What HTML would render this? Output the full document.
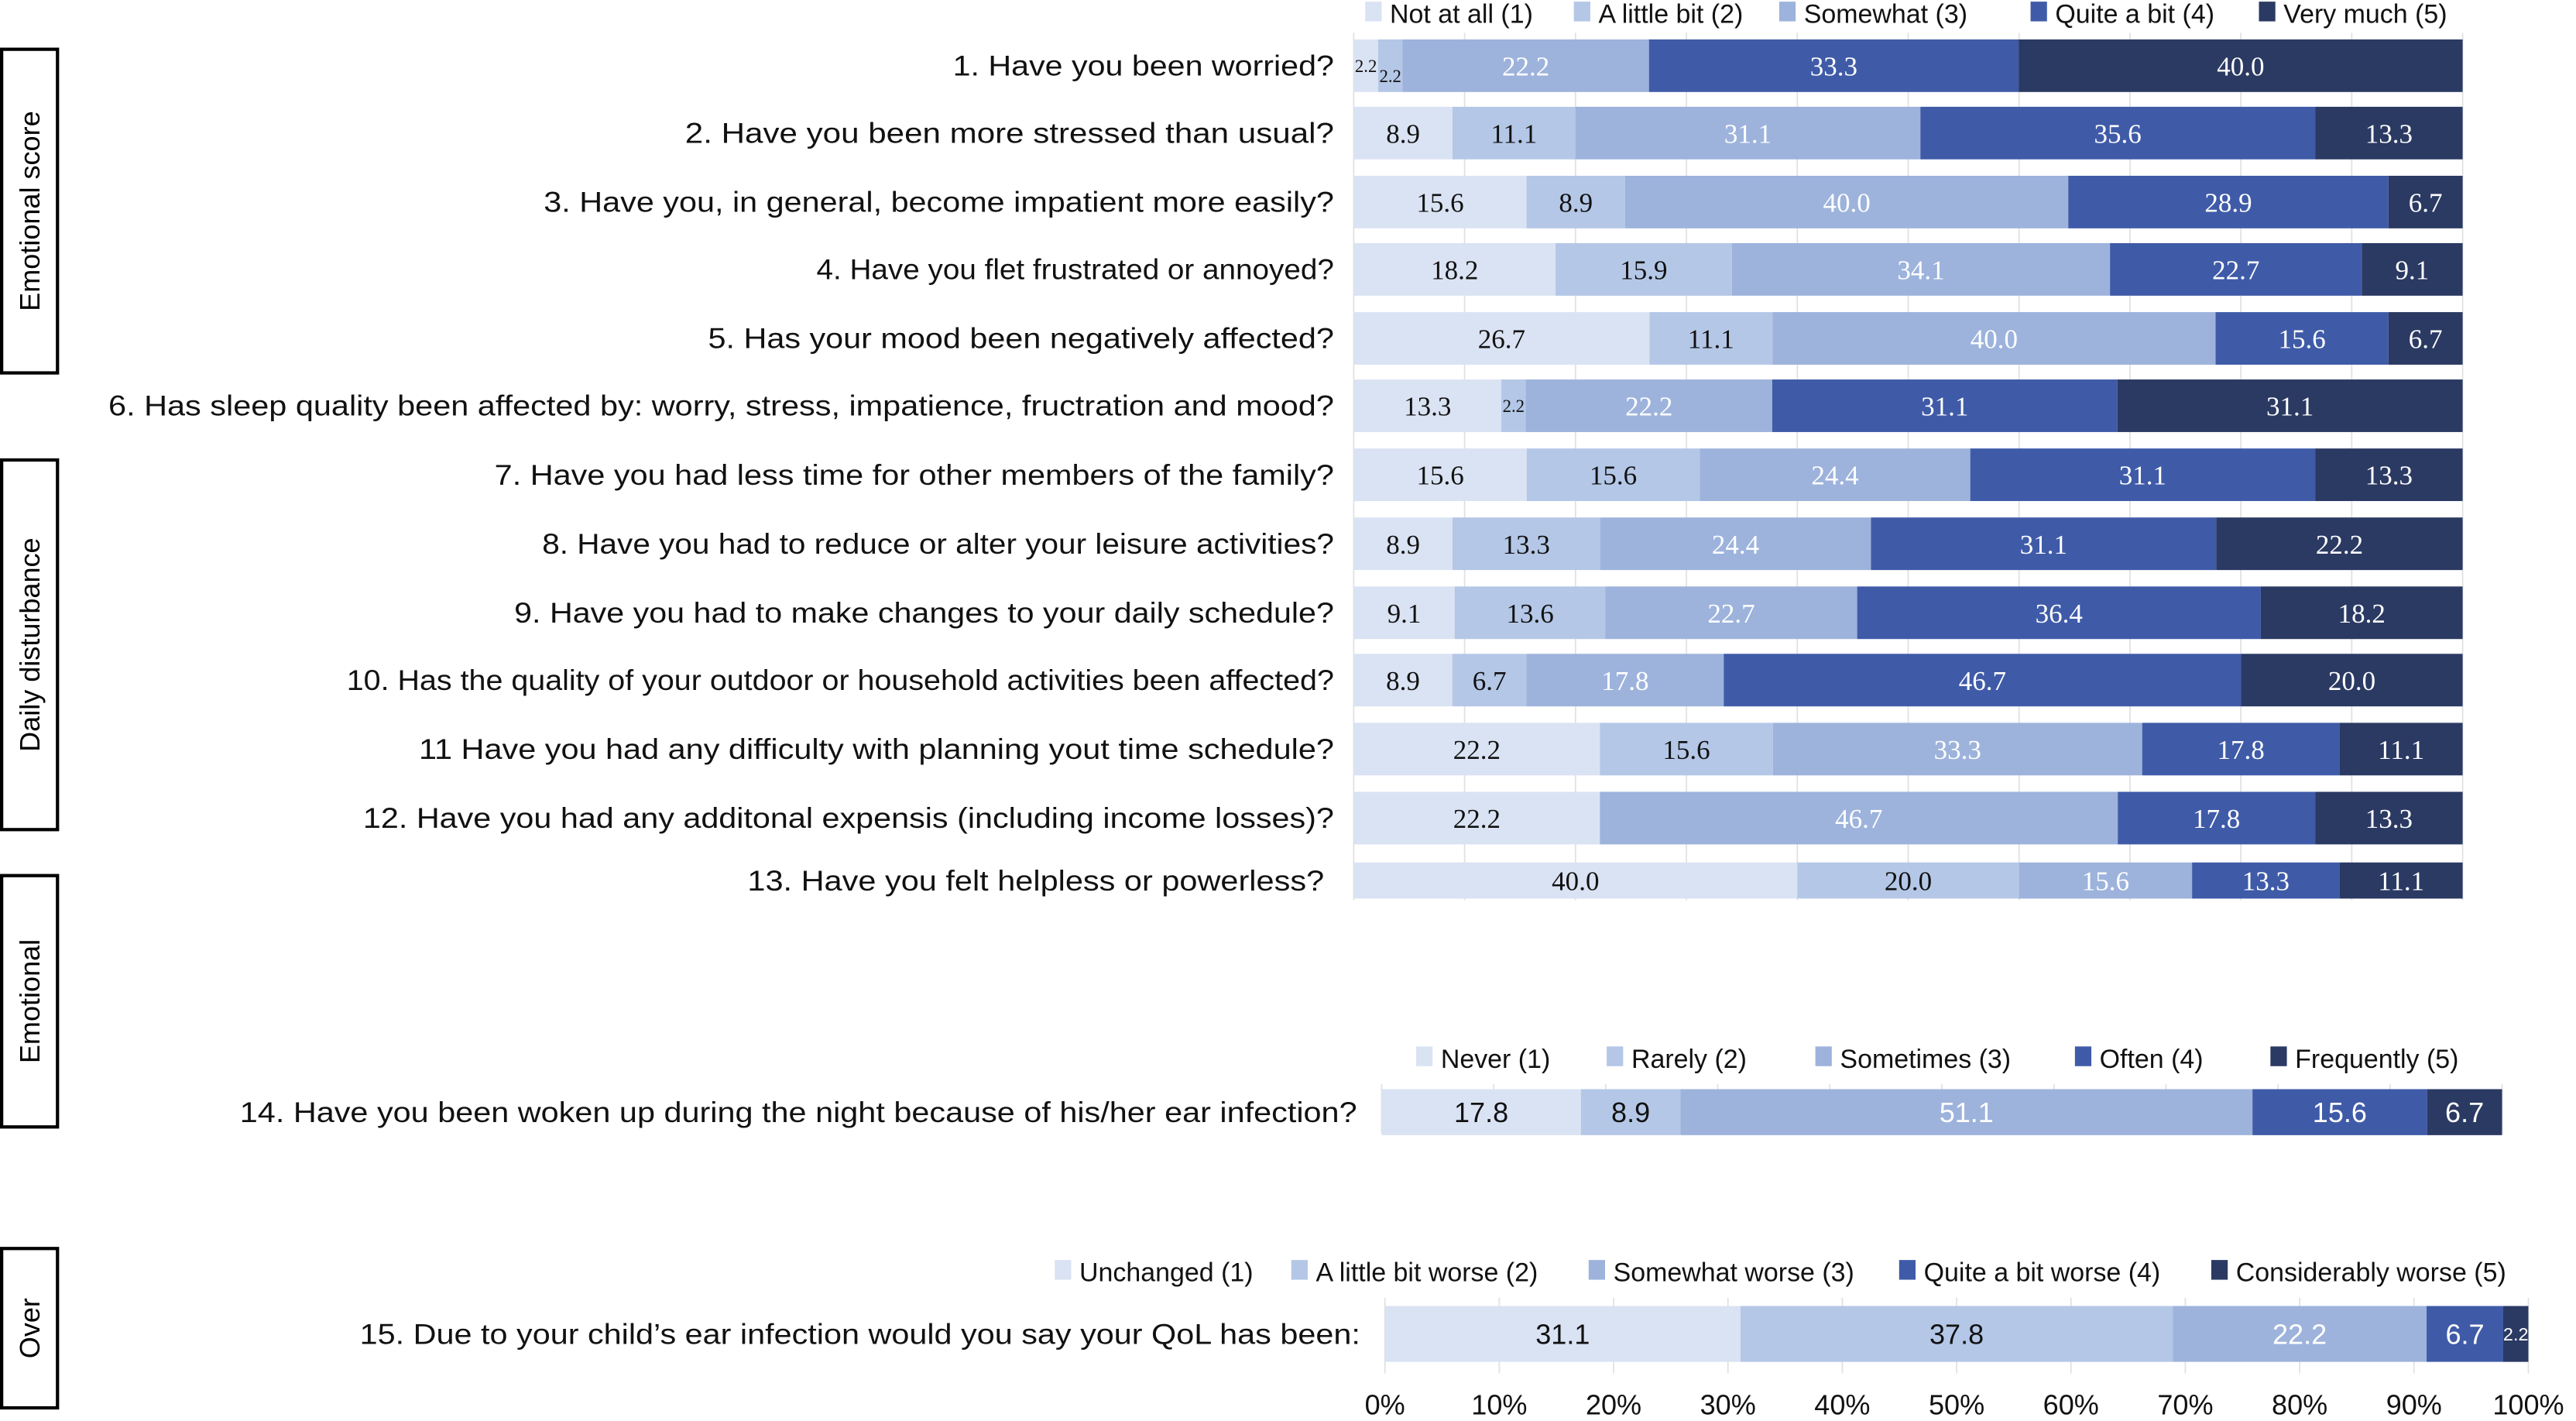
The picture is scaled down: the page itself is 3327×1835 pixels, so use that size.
<!DOCTYPE html>
<html><head><meta charset="utf-8"><style>
html,body{margin:0;padding:0;background:#fff;}
svg{display:block;font-family:"Liberation Sans",sans-serif;}
</style></head><body>
<svg id="chart" width="3327" height="1835" viewBox="0 0 1568 865" preserveAspectRatio="none" xmlns="http://www.w3.org/2000/svg">
<g id="side"></g>
<g id="grid"></g>
<g id="bars"></g>
<g id="labels"></g>
<g id="legends"></g>
</svg>
<script>
const colors = ['#dae3f3','#b4c7e7','#9db3dc','#3f5ba8','#2b3a63'];
const questions = [
 "1. Have you been worried?",
 "2. Have you been more stressed than usual?",
 "3. Have you, in general, become impatient more easily?",
 "4. Have you flet frustrated or annoyed?",
 "5. Has your mood been negatively affected?",
 "6. Has sleep quality been affected by: worry, stress, impatience, fructration and mood?",
 "7. Have you had less time for other members of the family?",
 "8. Have you had to reduce or alter your leisure activities?",
 "9. Have you had to make changes to your daily schedule?",
 "10. Has the quality of your outdoor or household activities been affected?",
 "11 Have you had any difficulty with planning yout time schedule?",
 "12. Have you had any additonal expensis (including income losses)?",
 "13. Have you felt helpless or powerless?"
];
const values = [
 [2.2,2.2,22.2,33.3,40.0],
 [8.9,11.1,31.1,35.6,13.3],
 [15.6,8.9,40.0,28.9,6.7],
 [18.2,15.9,34.1,22.7,9.1],
 [26.7,11.1,40.0,15.6,6.7],
 [13.3,2.2,22.2,31.1,31.1],
 [15.6,15.6,24.4,31.1,13.3],
 [8.9,13.3,24.4,31.1,22.2],
 [9.1,13.6,22.7,36.4,18.2],
 [8.9,6.7,17.8,46.7,20.0],
 [22.2,15.6,33.3,17.8,11.1],
 [22.2,0,46.7,17.8,13.3],
 [40.0,20.0,15.6,13.3,11.1]
];
const q14Label = "14. Have you been woken up during the night because of his/her ear infection?";
const q14Values = [17.8,8.9,51.1,15.6,6.7];
const q15Label = "15. Due to your child\u2019s ear infection would you say your QoL has been:";
const q15Values = [31.1,37.8,22.2,6.7,2.2];
const legend1 = ["Not at all (1)","A little bit (2)","Somewhat (3)","Quite a bit (4)","Very much (5)"];
const legend2 = ["Never (1)","Rarely (2)","Sometimes (3)","Often (4)","Frequently (5)"];
const legend3 = ["Unchanged (1)","A little bit worse (2)","Somewhat worse (3)","Quite a bit worse (4)","Considerably worse (5)"];
const tickLabels = ["0%","10%","20%","30%","40%","50%","60%","70%","80%","90%","100%"];

const NS="http://www.w3.org/2000/svg";
function mk(tag,parent,attrs){const e=document.createElementNS(NS,tag);for(const k in attrs)e.setAttribute(k,attrs[k]);parent.appendChild(e);return e;}
const gSide=document.getElementById('side'),gGrid=document.getElementById('grid'),gBars=document.getElementById('bars'),gLab=document.getElementById('labels'),gLeg=document.getElementById('legends');

const sides=[["Emotional score",1,30,34,197],["Daily disturbance",1,280,34,225],["Emotional",1,533,34,153],["Over",1,760,34,97]];
sides.forEach(s=>{
 const r=mk('rect',gSide,{x:s[1],y:s[2],width:s[3],height:s[4],fill:'none',stroke:'#000','stroke-width':2});
 
 
 const cx=s[1]+s[3]/2+6, cy=s[2]+s[4]/2;
 const t=mk('text',gSide,{x:cx,y:cy,'font-size':17,'text-anchor':'middle',transform:`rotate(-90 ${cx} ${cy})`});
 t.textContent=s[0];
 
 
});

function drawChart(rows,labels,opt){
 const xs=v=>opt.x0+v/100*(opt.x1-opt.x0);
 for(let i=0;i<=10;i++){
  const l=mk('line',gGrid,{x1:xs(i*10),x2:xs(i*10),y1:opt.gy0,y2:opt.gy1,stroke:'#e0e0e0','stroke-width':0.8});
  
  
 }
 rows.forEach((vals,r)=>{
  const cy=opt.cy[r], h=opt.h[r]||opt.h[0];
  const tot=vals.reduce((a,b)=>a+b,0);
  let acc=0;
  vals.forEach((v,k)=>{
   if(v<=0){return;}
   const a=xs(acc/tot*100), b=xs((acc+v)/tot*100);
   const rc=mk('rect',gBars,{x:a,y:cy-h/2,width:b-a,height:h,fill:colors[k]});
   
   
   let fs=opt.fs, ty=cy+fs*0.36, tx=(a+b)/2;
   if(v<3){fs=opt.fs*0.65;ty=cy+fs*0.36;}
   if(opt.smallOffset && v<3 && k===1 && vals[0]<3){ty=cy+10;}
   const t=mk('text',gLab,{x:tx,y:ty,'font-size':fs,'text-anchor':'middle',fill:k>=2?'#fff':'#111',style:'font-family:'+opt.font});
   t.textContent=v.toFixed(1);
   
   
   acc+=v;
  });
  const L=labels[r];
  const q=mk('text',gLab,{x:L[1],y:cy+6,'font-size':17.5,'text-anchor':'end',textLength:L[1]-L[0],lengthAdjust:'spacingAndGlyphs',fill:'#111'});
  q.textContent=L[2];
  
  
 });
}
const starts=[580,417,331,497,431,66,301,330,313,211,255,221,455];
const ends=[812,812,812,812,812,812,812,812,812,812,812,812,806];
const cys=[40,81,123,164,206,247,289,331,373,414,456,498,536];
drawChart(values,questions.map((q,i)=>[starts[i],ends[i],q]),{x0:824,x1:1499,gy0:20,gy1:548,cy:cys,h:[32,32,32,32,32,32,32,32,32,32,32,32,22],fs:16.5,font:'"Liberation Serif",serif',smallOffset:true});
drawChart([q14Values],[[146,826,q14Label]],{x0:841,x1:1523,gy0:660,gy1:690,cy:[677],h:[28],fs:17,font:'"Liberation Sans",sans-serif'});
drawChart([q15Values],[[219,828,q15Label]],{x0:843,x1:1539,gy0:790,gy1:836,cy:[812],h:[34],fs:17,font:'"Liberation Sans",sans-serif'});

tickLabels.forEach((s,i)=>{
 const x=843+i/10*(1539-843);
 const t=mk('text',gLab,{x:x,y:861,'font-size':17,'text-anchor':'middle',fill:'#111'});
 t.textContent=s;
 
 
});

function legend(items,sqx,y,fs){
 items.forEach((s,i)=>{
  const r=mk('rect',gLeg,{x:sqx[i],y:y-7,width:10,height:12,fill:colors[i]});
  
  
  const t=mk('text',gLeg,{x:sqx[i]+15,y:y+6,'font-size':fs,fill:'#111'});
  t.textContent=s;
  
  
 });
}
legend(legend1,[831,958,1083,1236,1375],8,16);
legend(legend2,[862,978,1105,1263,1382],644,16);
legend(legend3,[642,786,967,1156,1346],774,16);
</script>
</body></html>
